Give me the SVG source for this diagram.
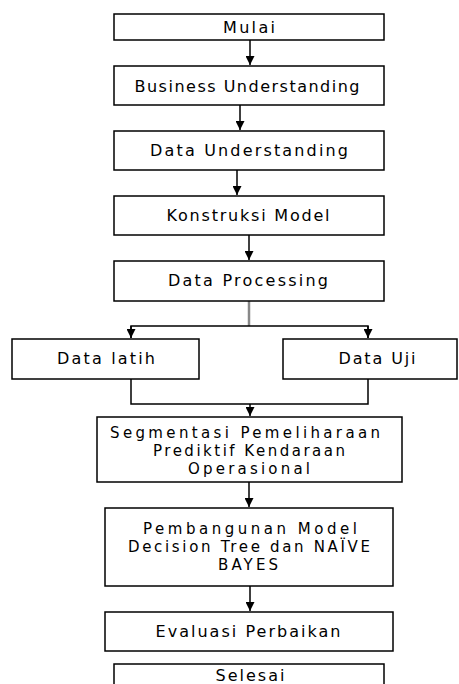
<svg xmlns="http://www.w3.org/2000/svg" width="459" height="684" viewBox="0 0 459 684">
<style>
.box{fill:#fff;stroke:#000;stroke-width:1.5}
.t{font-family:"DejaVu Sans","Liberation Sans",Arial,sans-serif;font-size:16px;fill:#000;text-anchor:middle}
.m{font-size:15px}
.c{fill:none;stroke:#000;stroke-width:1.5}
</style>
<defs>
<marker id="ah" viewBox="0 0 10 10" refX="10" refY="5" markerWidth="9" markerHeight="9" orient="auto" markerUnits="userSpaceOnUse">
<path d="M0,0 L10,5 L0,10 z" fill="#000"/>
</marker>
</defs>
<rect width="459" height="684" fill="#fff"/>
<g id="connectors">
<path class="c" d="M250,40 V65" marker-end="url(#ah)"/>
<path class="c" d="M240,105 V130" marker-end="url(#ah)"/>
<path class="c" d="M237,170 V195" marker-end="url(#ah)"/>
<path class="c" d="M249,235 V260" marker-end="url(#ah)"/>
<path d="M249,301 V326" fill="none" stroke="#888" stroke-width="2.5"/>
<path class="c" d="M131,338 V326 H368 V338" />
<path class="c" d="M131,326 V338" marker-end="url(#ah)"/>
<path class="c" d="M368,326 V338" marker-end="url(#ah)"/>
<path class="c" d="M131,379 V404 H368 V379"/>
<path class="c" d="M250,404 V416" marker-end="url(#ah)"/>
<path class="c" d="M249,482 V507" marker-end="url(#ah)"/>
<path class="c" d="M250,586 V611" marker-end="url(#ah)"/>
</g>
<g id="mulai"><rect class="box" x="114" y="14" width="270" height="26"/><text class="t" x="249" y="33" textLength="52" lengthAdjust="spacing">Mulai</text></g>
<g id="business"><rect class="box" x="114" y="66" width="270" height="39"/><text class="t" x="247" y="92" textLength="225" lengthAdjust="spacing">Business Understanding</text></g>
<g id="dataund"><rect class="box" x="114" y="131" width="270" height="39"/><text class="t" x="249" y="156" textLength="198" lengthAdjust="spacing">Data Understanding</text></g>
<g id="konstruksi"><rect class="box" x="114" y="196" width="270" height="39"/><text class="t" x="248" y="221" textLength="163" lengthAdjust="spacing">Konstruksi Model</text></g>
<g id="processing"><rect class="box" x="114" y="261" width="270" height="40"/><text class="t" x="248" y="286" textLength="160" lengthAdjust="spacing">Data Processing</text></g>
<g id="latih"><rect class="box" x="12" y="339" width="187" height="40"/><text class="t" x="106" y="364" textLength="98" lengthAdjust="spacing">Data latih</text></g>
<g id="uji"><rect class="box" x="283" y="339" width="174" height="40"/><text class="t" x="377" y="364" textLength="77" lengthAdjust="spacing">Data Uji</text></g>
<g id="segmentasi"><rect class="box" x="97" y="417" width="305" height="65"/>
<text class="t m" x="245" y="438" textLength="270" lengthAdjust="spacing">Segmentasi Pemeliharaan</text>
<text class="t m" x="249" y="456" textLength="192" lengthAdjust="spacing">Prediktif Kendaraan</text>
<text class="t m" x="249" y="474" textLength="122" lengthAdjust="spacing">Operasional</text></g>
<g id="pembangunan"><rect class="box" x="105" y="508" width="288" height="78"/>
<text class="t m" x="250" y="534" textLength="214" lengthAdjust="spacing">Pembangunan Model</text>
<text class="t m" x="249" y="552" textLength="242" lengthAdjust="spacing">Decision Tree dan NAÏVE</text>
<text class="t m" x="248" y="570" textLength="60" lengthAdjust="spacing">BAYES</text></g>
<g id="evaluasi"><rect class="box" x="105" y="612" width="288" height="39"/><text class="t" x="248" y="637" textLength="185" lengthAdjust="spacing">Evaluasi Perbaikan</text></g>
<g id="selesai"><rect class="box" x="114" y="664" width="270" height="30"/><text class="t" x="250" y="681" textLength="69" lengthAdjust="spacing">Selesai</text></g>
</svg>
